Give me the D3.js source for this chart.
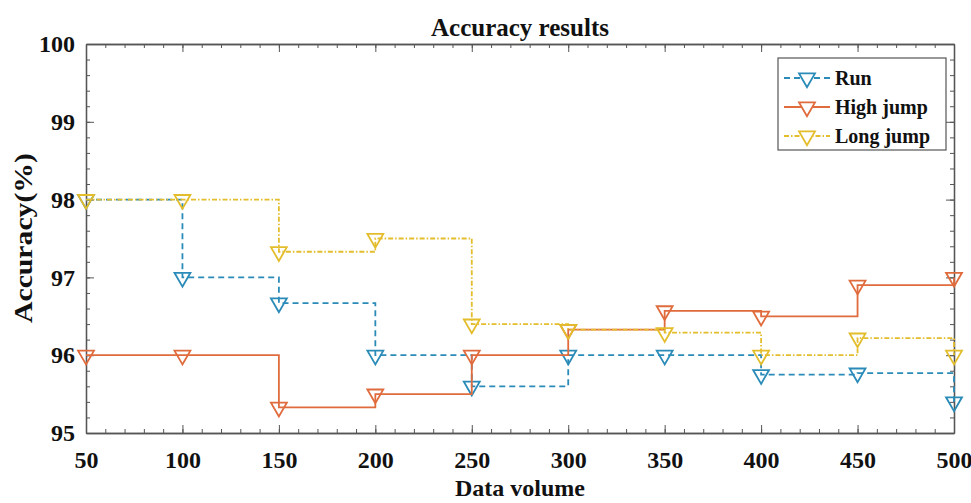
<!DOCTYPE html>
<html lang="en">
<head>
    <meta charset="UTF-8">
    <title>Accuracy results</title>
    <script src="https://d3js.org/d3.v7.min.js"></script>
    <style>
        body { margin: 0; background: #fff; }
    </style>
</head>
<body>
<script>
    // data
    const dataVolume = [50, 100, 150, 200, 250, 300, 350, 400, 450, 500];
    const runAcc      = [98.0, 97.0, 96.67, 96.0, 95.6, 96.0, 96.0, 95.75, 95.77, 95.4];
    const highJumpAcc = [96.0, 96.0, 95.33, 95.5, 96.0, 96.33, 96.57, 96.5, 96.9, 97.0];
    const longJumpAcc = [98.0, 98.0, 97.33, 97.5, 96.4, 96.33, 96.29, 96.0, 96.22, 96.0];
    const seriesNames = ['Run', 'High jump', 'Long jump'];
    const xTicks = [50, 100, 150, 200, 250, 300, 350, 400, 450, 500];
    const yTicks = [95, 96, 97, 98, 99, 100];

    const width = 971, height = 503;
    const margin = { top: 44, right: 17, bottom: 70, left: 86 };
    const serif = '"Liberation Serif", "Times New Roman", serif';

    const svg = d3.select("body").append("svg")
        .attr("width", width)
        .attr("height", height);

    const x = d3.scaleLinear().domain([50, 500]).range([margin.left, width - margin.right]);
    const y = d3.scaleLinear().domain([95, 100]).range([height - margin.bottom, margin.top]);

    const axisColor = "#555";
    const plotLeft = margin.left, plotRight = width - margin.right;
    const plotTop = margin.top, plotBottom = height - margin.bottom;

    // ticks (inside, on all four sides)
    function drawAxis(axis, tx, ty, labels) {
        const g = svg.append("g").attr("transform", `translate(${tx},${ty})`).call(axis);
        g.selectAll("line").attr("stroke", axisColor);
        g.select(".domain").attr("stroke", axisColor).attr("stroke-width", 1.3);
        if (!labels) g.selectAll("text").remove();
        g.selectAll("text")
            .style("font-family", serif)
            .style("font-weight", "bold")
            .style("font-size", "24px")
            .attr("fill", "#111");
        return g;
    }
    const minorX = d3.range(50, 501, 10);
    const minorY = d3.range(95, 100.01, 0.2);

    drawAxis(d3.axisBottom(x).tickValues(minorX).tickSize(-4).tickSizeOuter(0), 0, plotBottom, false);
    drawAxis(d3.axisTop(x).tickValues(minorX).tickSize(-4).tickSizeOuter(0), 0, plotTop, false);
    drawAxis(d3.axisLeft(y).tickValues(minorY).tickSize(-4).tickSizeOuter(0), plotLeft, 0, false);
    drawAxis(d3.axisRight(y).tickValues(minorY).tickSize(-4).tickSizeOuter(0), plotRight, 0, false);

    drawAxis(d3.axisBottom(x).tickValues(xTicks).tickFormat(d3.format("d"))
        .tickSize(-8).tickSizeOuter(0).tickPadding(18), 0, plotBottom, true);
    drawAxis(d3.axisTop(x).tickValues(xTicks).tickSize(-8).tickSizeOuter(0), 0, plotTop, false);
    drawAxis(d3.axisLeft(y).tickValues(yTicks).tickFormat(d3.format("d"))
        .tickSize(-8).tickSizeOuter(0).tickPadding(11), plotLeft, 0, true);
    drawAxis(d3.axisRight(y).tickValues(yTicks).tickSize(-8).tickSizeOuter(0), plotRight, 0, false);

    // series
    const series = [
        { name: seriesNames[0], values: runAcc,      color: "#2a8bb8", dash: "6,4" },
        { name: seriesNames[1], values: highJumpAcc, color: "#e06b3c", dash: null },
        { name: seriesNames[2], values: longJumpAcc, color: "#e3bd2c", dash: "5,2,1.5,2" }
    ];

    const line = d3.line()
        .x((d, i) => x(dataVolume[i]))
        .y(d => y(d))
        .curve(d3.curveStepAfter);

    const tri = d3.symbol().type(d3.symbolTriangle).size(110);

    series.forEach(s => {
        svg.append("path")
            .attr("d", line(s.values))
            .attr("fill", "none")
            .attr("stroke", s.color)
            .attr("stroke-width", 1.8)
            .attr("stroke-dasharray", s.dash);
        svg.selectAll(null)
            .data(s.values)
            .enter().append("path")
            .attr("d", tri)
            .attr("transform", (d, i) => `translate(${x(dataVolume[i])},${y(d)}) rotate(180)`)
            .attr("fill", "none")
            .attr("stroke", s.color)
            .attr("stroke-width", 1.8);
    });

    // title and axis labels
    function label(t, size) {
        return t.style("font-family", serif).style("font-weight", "bold")
            .style("font-size", size + "px").attr("fill", "#111");
    }
    label(svg.append("text")
        .attr("x", (plotLeft + plotRight) / 2)
        .attr("y", 36)
        .attr("text-anchor", "middle")
        .text("Accuracy results"), 25);

    label(svg.append("text")
        .attr("x", (plotLeft + plotRight) / 2)
        .attr("y", 496)
        .attr("text-anchor", "middle")
        .text("Data volume"), 24);

    label(svg.append("text")
        .attr("transform", `translate(32,238) rotate(-90)`)
        .attr("text-anchor", "middle")
        .attr("textLength", 170)
        .attr("lengthAdjust", "spacingAndGlyphs")
        .text("Accuracy(%)"), 25);

    // legend
    const legend = svg.append("g").attr("transform", "translate(778,58)");
    legend.append("rect")
        .attr("width", 168).attr("height", 92)
        .attr("fill", "#fff").attr("stroke", "#555").attr("stroke-width", 1.2);
    series.forEach((s, i) => {
        const ly = 20 + i * 29;
        legend.append("line")
            .attr("x1", 6).attr("x2", 52).attr("y1", ly).attr("y2", ly)
            .attr("stroke", s.color).attr("stroke-width", 1.8)
            .attr("stroke-dasharray", s.dash);
        legend.append("path")
            .attr("d", tri)
            .attr("transform", `translate(29,${ly}) rotate(180)`)
            .attr("fill", "#fff").attr("stroke", s.color).attr("stroke-width", 1.8);
        label(legend.append("text")
            .attr("x", 57).attr("y", ly)
            .attr("dy", "0.35em")
            .text(s.name), 20);
    });
</script>
</body>
</html>
